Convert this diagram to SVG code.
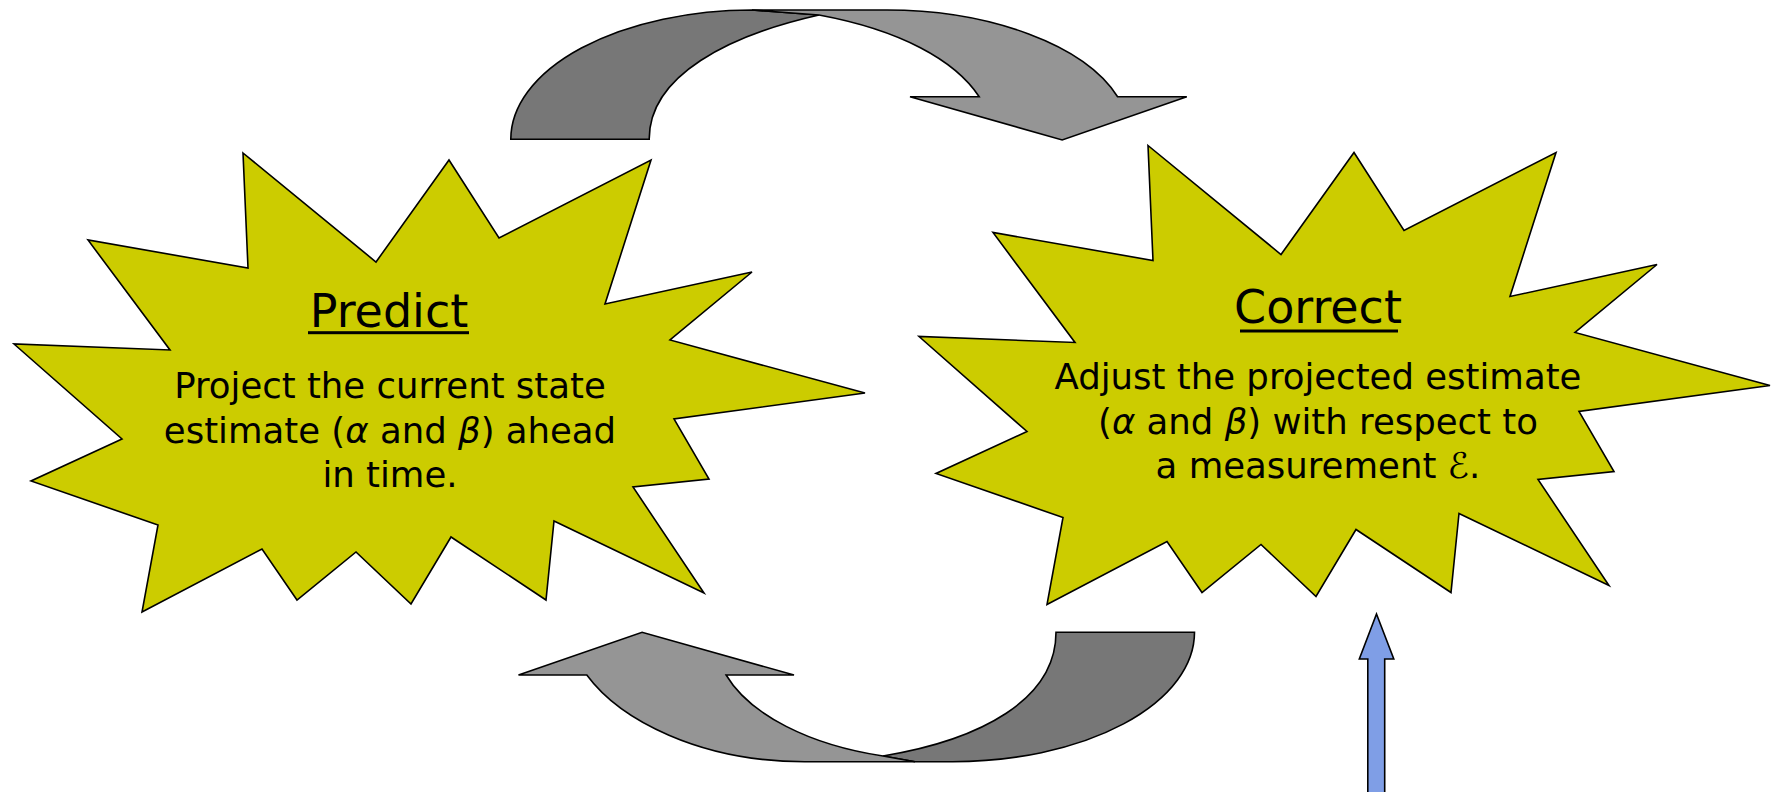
<svg xmlns="http://www.w3.org/2000/svg" width="1776" height="792" viewBox="0 0 1776 792">
<style>
.star{fill:#cccc00;stroke:#000;stroke-width:1.6;stroke-linejoin:miter}
.dark{fill:#777777;stroke:#000;stroke-width:1.6;stroke-linejoin:miter}
.light{fill:#959595;stroke:#000;stroke-width:1.6;stroke-linejoin:miter}
.blue{fill:#7f9ee6;stroke:#000;stroke-width:1.6}
.head{font-family:"DejaVu Sans",Verdana,sans-serif;font-size:46px;fill:#000;text-anchor:middle}
.body{font-family:"DejaVu Sans",Verdana,sans-serif;font-size:35.5px;fill:#000;text-anchor:middle}
.it{font-style:italic}
</style>
<defs>
<polygon id="starShape" points="243,153 376,262 449,160 499,238 651,160 605,304 752,272 670,340 865,393 674,419 709,479 633,487 704,593 554,521 546,600 451,537 411,604 356,552 297,600 262,549 142,612 158,525 31,481 122,439 14,344 170,350 88,240 248,268"/>
</defs>
<g id="connectors">
<g id="top-arrow">
<path class="dark" d="M 510.8,139.3 A 242 129.3 0 0 1 752,10 L 819,15 C 730,35 649,75 649.2,139.3 Z"/>
<path class="light" d="M 752,10 L 887,10 C 990,10 1085,45 1117.6,96.7 L 1186.8,96.7 L 1062.2,140 L 910,96.7 L 979.2,96.7 C 955,60 900,30 819,15 Z"/>
</g>
<g id="bottom-arrow">
<path class="dark" d="M 1056,632.3 L 1194.5,632.3 A 242 129.4 0 0 1 952.2,761.7 L 915,761.7 L 883,756 C 980,740 1056,700 1056,632.3 Z"/>
<path class="light" d="M 518.5,675 L 642.1,632.3 L 794,675 L 726.1,675 C 750,715 810,745 883,756 L 915,761.7 L 804.6,761.7 C 700,761.7 620,720 586.8,675 Z"/>
</g>
<g id="measurement-arrow">
<polygon class="blue" points="1376.5,614 1393.8,659 1384.7,659 1384.7,800 1367.8,800 1367.8,659 1359.3,659"/>
</g>
</g>
<g id="predict">
<use href="#starShape" class="star"/>
<text class="head" x="389" y="326.7">Predict</text>
<rect x="308" y="331.2" width="161" height="3" fill="#000"/>
<text class="body" x="390" y="397.7">Project the current state</text>
<text class="body" x="390" y="442.5">estimate (<tspan class="it">α</tspan> and <tspan class="it">β</tspan>) ahead</text>
<text class="body" x="390" y="486.5">in time.</text>
</g>
<g id="correct">
<use href="#starShape" class="star" transform="translate(905,-7.5)"/>
<text class="head" x="1318" y="323.3">Correct</text>
<rect x="1240" y="329.5" width="158" height="3" fill="#000"/>
<text class="body" x="1318" y="389.3">Adjust the projected estimate</text>
<text class="body" x="1318" y="433.5">(<tspan class="it">α</tspan> and <tspan class="it">β</tspan>) with respect to</text>
<text class="body" x="1318" y="478.3">a measurement <tspan class="it">ℰ</tspan>.</text>
</g>
</svg>
